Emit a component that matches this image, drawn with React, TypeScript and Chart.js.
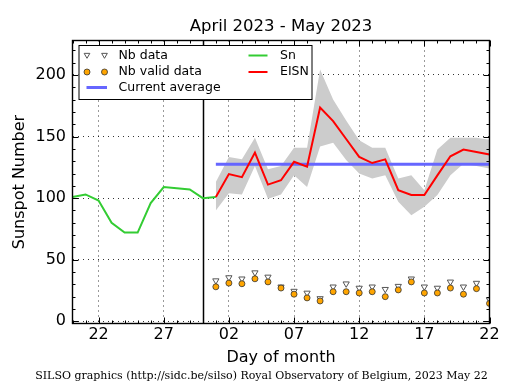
import React, { useEffect, useRef } from 'react';
import { Chart, registerables } from 'chart.js';

Chart.register(...registerables);

const TITLE = 'April 2023 - May 2023';
const X_TITLE = 'Day of month';
const Y_TITLE = 'Sunspot Number';
const FOOTER = 'SILSO graphics (http://sidc.be/silso) Royal Observatory of Belgium, 2023 May 22';

// Dates as 'MM-DD'
const snDates = ['04-20', '04-21', '04-22', '04-23', '04-24', '04-25', '04-26', '04-27', '04-28', '04-29', '04-30', '05-01'];
const snValues = [101, 103, 98, 80, 72, 72, 96, 109, 108, 107, 100, 101];

const mayDates = ['05-01', '05-02', '05-03', '05-04', '05-05', '05-06', '05-07', '05-08', '05-09', '05-10', '05-11',
  '05-12', '05-13', '05-14', '05-15', '05-16', '05-17', '05-18', '05-19', '05-20', '05-21', '05-22'];
const eisnValues = [101, 119.5, 117, 137, 111, 114.5, 129.5, 125.5, 173.5, 162.5, 148, 133.5, 128.5, 131.5, 106.5, 102.5, 102.5, 118.5, 134, 139.5, 137.5, 135.5];
const bandUpper = [113, 133.5, 131.5, 149, 123.5, 126, 141, 141, 204.5, 180, 163, 147, 141, 141, 116, 118.5, 106.5, 139.5, 149, 149, 149, 147.5];
const bandLower = [90, 104, 103, 126, 99.5, 103, 118.5, 109, 142, 145, 131, 120, 116, 118.5, 97, 86, 93, 102.5, 118.5, 128, 126, 124];
const nbData = [33, 35.5, 34.5, 39.5, 36, 28, 24.5, 23, 18.5, 28, 30.5, 27, 28, 26, 28.5, 34.5, 28, 27, 32, 28, 31, 17.5];
const nbValid = [28, 31, 30.5, 34.5, 32, 27, 22, 19, 16.5, 24, 24, 23, 24, 20, 25.5, 32, 23, 23, 27, 22, 26.5, 14.5];

const avgDates = ['05-01', '05-22'];
const avgValue = 127.5;
const monthMarkDate = '04-30';

const xStartDate = '04-20';
const xEndDate = '05-22';
const xTickDates = ['04-22', '04-27', '05-02', '05-07', '05-12', '05-17', '05-22'];
const xTickLabels = ['22', '27', '02', '07', '12', '17', '22'];
const yTicks = [0, 50, 100, 150, 200];
const yMin = -1.8;
const yMax = 228;
const yMinorStep = 10;

const legendLabels = { nb: 'Nb data', valid: 'Nb valid data', avg: 'Current average', sn: 'Sn', eisn: 'EISN' };

const toX = (s: string) => {
  const [m, d] = s.split('-').map(Number);
  return m === 4 ? d - 20 : d + 10;
};
const pts = (dates: string[], vals: number[]) => dates.map((d, i) => ({ x: toX(d), y: vals[i] }));

const FONT = '"DejaVu Sans", sans-serif';
const GREEN = '#33cc33';
const RED = '#ff0000';
const BLUE = '#6666ff';
const ORANGE = '#ffa500';
const BAND = '#cccccc';

function drawTri(ctx: CanvasRenderingContext2D, x: number, y: number, r: number) {
  ctx.beginPath();
  ctx.moveTo(x - r * 0.866, y - r * 0.5);
  ctx.lineTo(x + r * 0.866, y - r * 0.5);
  ctx.lineTo(x, y + r);
  ctx.closePath();
  ctx.fillStyle = '#ffffff';
  ctx.fill();
  ctx.strokeStyle = '#555555';
  ctx.lineWidth = 1;
  ctx.stroke();
}
function drawDot(ctx: CanvasRenderingContext2D, x: number, y: number, r: number) {
  ctx.beginPath();
  ctx.arc(x, y, r, 0, Math.PI * 2);
  ctx.fillStyle = ORANGE;
  ctx.fill();
  ctx.strokeStyle = '#333333';
  ctx.lineWidth = 0.8;
  ctx.stroke();
}

const decorPlugin = {
  id: 'decor',
  beforeDatasetsDraw(chart: any) {
    const { ctx, chartArea: a, scales } = chart;
    const x = Math.round(scales.x.getPixelForValue(toX(monthMarkDate))) + 0.5;
    ctx.save();
    ctx.strokeStyle = '#000';
    ctx.lineWidth = 1.5;
    ctx.beginPath();
    ctx.moveTo(x, a.top);
    ctx.lineTo(x, a.bottom);
    ctx.stroke();
    ctx.restore();
  },
  afterDraw(chart: any) {
    const { ctx, chartArea: a, scales } = chart;
    const xs = scales.x;
    const ys = scales.y;
    ctx.save();
    // ticks, inward on all sides
    ctx.strokeStyle = '#000';
    ctx.lineWidth = 1;
    const xMaj = xTickDates.map(toX);
    for (let v = toX(xStartDate); v <= toX(xEndDate); v++) {
      const px = Math.round(xs.getPixelForValue(v)) + 0.5;
      const len = xMaj.includes(v) ? 6 : 3;
      ctx.beginPath();
      ctx.moveTo(px, a.bottom);
      ctx.lineTo(px, a.bottom - len);
      ctx.moveTo(px, a.top);
      ctx.lineTo(px, a.top + len);
      ctx.stroke();
    }
    for (let v = yTicks[0]; v <= yMax; v += yMinorStep) {
      const py = Math.round(ys.getPixelForValue(v)) + 0.5;
      const len = yTicks.includes(v) ? 6 : 3;
      ctx.beginPath();
      ctx.moveTo(a.left, py);
      ctx.lineTo(a.left + len, py);
      ctx.moveTo(a.right, py);
      ctx.lineTo(a.right - len, py);
      ctx.stroke();
    }
    // frame
    ctx.lineWidth = 1.4;
    ctx.strokeRect(a.left, a.top, a.right - a.left, a.bottom - a.top);

    // legend
    const lx = a.left + 6;
    const ly = a.top + 4.5;
    const lw = 233;
    const lh = 54;
    ctx.fillStyle = '#fff';
    ctx.fillRect(lx, ly, lw, lh);
    ctx.lineWidth = 1;
    ctx.strokeStyle = '#000';
    ctx.strokeRect(lx + 0.5, ly + 0.5, lw, lh);
    const r1 = ly + 10.5, r2 = ly + 27, r3 = ly + 42.5;
    const m1 = lx + 8.5, m2 = lx + 26;
    drawTri(ctx, m1, r1 - 0.5, 3.3);
    drawTri(ctx, m2, r1 - 0.5, 3.3);
    drawDot(ctx, m1, r2, 3);
    drawDot(ctx, m2, r2, 3);
    ctx.strokeStyle = BLUE;
    ctx.lineWidth = 3;
    ctx.beginPath();
    ctx.moveTo(lx + 8, r3);
    ctx.lineTo(lx + 28.5, r3);
    ctx.stroke();
    const c2 = lx + 170;
    ctx.lineWidth = 2;
    ctx.strokeStyle = GREEN;
    ctx.beginPath();
    ctx.moveTo(c2, r1);
    ctx.lineTo(c2 + 19, r1);
    ctx.stroke();
    ctx.strokeStyle = RED;
    ctx.beginPath();
    ctx.moveTo(c2, r2);
    ctx.lineTo(c2 + 19, r2);
    ctx.stroke();
    ctx.fillStyle = '#000';
    ctx.font = `12.5px ${FONT}`;
    ctx.textBaseline = 'middle';
    ctx.textAlign = 'left';
    ctx.fillText(legendLabels.nb, lx + 40, r1);
    ctx.fillText(legendLabels.valid, lx + 40, r2);
    ctx.fillText(legendLabels.avg, lx + 40, r3);
    ctx.fillText(legendLabels.sn, c2 + 31.5, r1);
    ctx.fillText(legendLabels.eisn, c2 + 31.5, r2);

    // footer
    ctx.font = `11px "DejaVu Serif", serif`;
    ctx.textAlign = 'center';
    ctx.fillText(FOOTER, 261.5, 376);
    ctx.restore();
  },
};

export default function App() {
  const ref = useRef<HTMLCanvasElement>(null);
  useEffect(() => {
    const canvas = ref.current;
    if (!canvas) return;
    Chart.defaults.font.family = FONT;
    Chart.defaults.color = '#000';
    const gridOpts = { color: '#000', lineWidth: 0.8, drawTicks: false };
    const borderOpts = { display: false, dash: [1, 4] };
    const chart = new Chart(canvas, {
      type: 'line',
      data: {
        datasets: [
          {
            label: legendLabels.valid, data: pts(mayDates, nbValid), showLine: false,
            pointStyle: 'circle', pointRadius: 3, pointBackgroundColor: ORANGE, pointBorderColor: '#333', pointBorderWidth: 0.8,
          },
          {
            label: legendLabels.nb, data: pts(mayDates, nbData), showLine: false,
            pointStyle: 'triangle', pointRotation: 180, pointRadius: 3.6, pointBackgroundColor: '#fff', pointBorderColor: '#555', pointBorderWidth: 1,
          },
          { label: legendLabels.eisn, data: pts(mayDates, eisnValues), borderColor: RED, borderWidth: 2, pointRadius: 0, fill: false },
          { label: legendLabels.sn, data: pts(snDates, snValues), borderColor: GREEN, borderWidth: 2, pointRadius: 0, fill: false },
          { label: legendLabels.avg, data: pts(avgDates, [avgValue, avgValue]), borderColor: BLUE, borderWidth: 3, pointRadius: 0, fill: false },
          { label: 'upper', data: pts(mayDates, bandUpper), borderWidth: 0, borderColor: 'rgba(0,0,0,0)', backgroundColor: BAND, pointRadius: 0, fill: '+1' },
          { label: 'lower', data: pts(mayDates, bandLower), borderWidth: 0, borderColor: 'rgba(0,0,0,0)', pointRadius: 0, fill: false },
        ],
      },
      options: {
        responsive: false,
        animation: false,
        devicePixelRatio: 1,
        events: [],
        layout: { padding: { top: 0, left: 0, right: 25.5, bottom: 0 } },
        plugins: {
          legend: { display: false },
          tooltip: { enabled: false },
          title: {
            display: true, text: TITLE, fullSize: false, color: '#000',
            font: { size: 16.5, weight: 'normal', family: FONT }, padding: { top: 16.6, bottom: 4.1 },
          },
        },
        scales: {
          x: {
            type: 'linear', min: toX(xStartDate), max: toX(xEndDate),
            grid: gridOpts, border: borderOpts,
            afterBuildTicks: (s: any) => { s.ticks = xTickDates.map((d) => ({ value: toX(d) })); },
            afterFit: (s: any) => { s.height = 66.5; },
            ticks: {
              font: { size: 16, family: FONT }, padding: 2, maxRotation: 0, autoSkip: false,
              callback: (v: any) => {
                const i = xTickDates.map(toX).indexOf(Number(v));
                return i >= 0 ? xTickLabels[i] : '';
              },
            },
            title: { display: true, text: X_TITLE, font: { size: 16, family: FONT }, padding: { top: 0, bottom: 22.9 } },
          },
          y: {
            type: 'linear', min: yMin, max: yMax,
            grid: gridOpts, border: borderOpts,
            afterBuildTicks: (s: any) => { s.ticks = yTicks.map((v) => ({ value: v })); },
            afterFit: (s: any) => { s.width = 72.5; },
            ticks: { font: { size: 16, family: FONT }, padding: 6.5 },
            title: { display: true, text: Y_TITLE, font: { size: 16, family: FONT }, padding: { top: 9.9, bottom: 0 } },
          },
        },
      },
      plugins: [decorPlugin],
    } as any);
    return () => chart.destroy();
  }, []);
  return (
    <div style={{ position: 'absolute', left: 0, top: 0, width: 515, height: 390, background: '#fff' }}>
      <canvas ref={ref} width={515} height={390} style={{ display: 'block', width: 515, height: 390 }} />
    </div>
  );
}
